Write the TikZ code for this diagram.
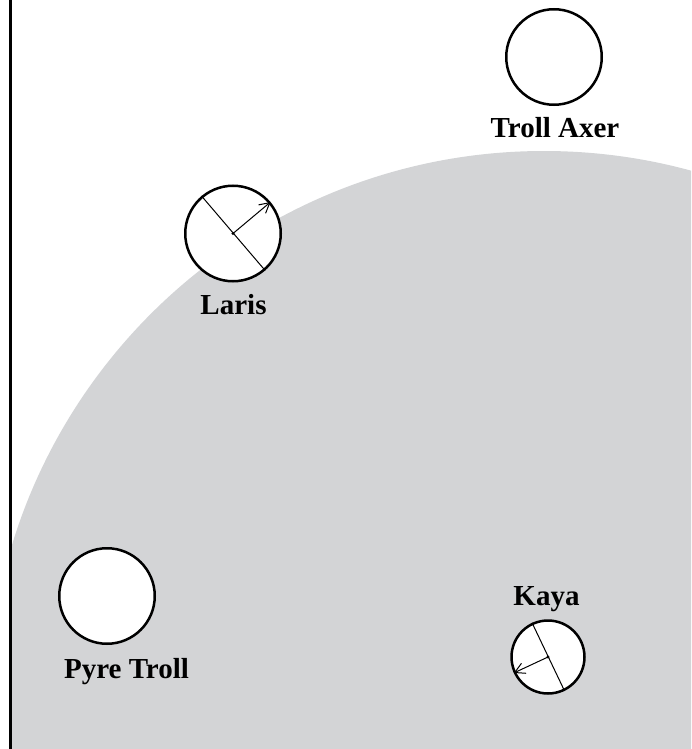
\documentclass[tikz,border=0pt]{standalone}
\usepackage{fontspec}
\setmainfont{Liberation Serif}
\usepackage{tikz}
\usetikzlibrary{arrows.meta}
\definecolor{zone}{RGB}{211,212,214}

\begin{document}
\begin{tikzpicture}[
        x=0.5pt, y=-0.5pt,
        token/.style={circle, draw=black, line width=1.25pt, fill=white, minimum size=47.75pt, inner sep=0pt},
        small/.style={token, minimum size=36.5pt},
        tag/.style={font=\bfseries\fontsize{14.5}{16}\selectfont, anchor=base, inner sep=0pt},
        facing/.style={line width=0.5pt},
        move/.style={line width=0.5pt, -{Straight Barb[length=5pt,width=5.5pt]}}
        ]
        \useasboundingbox (0,0) rectangle (691,749);

        % area of effect
        \begin{scope}
            \clip (11,0) rectangle (691,749);
            \fill[zone] (544,707) circle (278pt);
        \end{scope}
        \draw[line width=1.5pt] (10.5,0) -- (10.5,749);

        \node[token] (trollaxer) at (554,57) {};
        \node[token] (laris) at (233,233.5) {};
        \node[token] (pyretroll) at (107,596) {};
        \node[small] (kaya) at (548,657) {};

        \node[tag] (trollaxername) at (555,137) {Troll Axer};
        \node[tag] (larisname) at (233.5,314.5) {Laris};
        \node[tag] (pyretrollname) at (126.5,678.5) {Pyre Troll};
        \node[tag] (kayaname) at (546.5,605) {Kaya};

        \draw[facing] (laris.130.7) -- (laris.-49.3);
        \draw[move] (laris.center) -- (laris.40.7);
        \fill (laris.center) circle (0.8pt);

        \draw[facing] (kaya.115.8) -- (kaya.-64.2);
        \draw[move] (kaya.center) -- (kaya.205.8);
        \fill (kaya.center) circle (0.8pt);
    \end{tikzpicture}
\end{document}
